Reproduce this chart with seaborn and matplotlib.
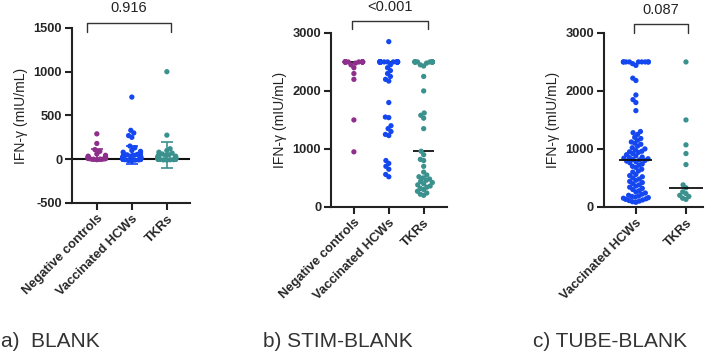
import warnings
import numpy as np
import pandas as pd
import matplotlib
matplotlib.use("Agg")
import matplotlib.pyplot as plt
import seaborn as sns

warnings.filterwarnings("ignore")

# group names and colours
groups_3 = ["Negative controls", "Vaccinated HCWs", "TKRs"]
groups_2 = ["Vaccinated HCWs", "TKRs"]
colors = {"Negative controls": "#8e2f8c", "Vaccinated HCWs": "#1447f0", "TKRs": "#3a918e"}

# a) BLANK (mIU/mL)
neg_blank = [290, 180, 110, 90, 60, 45, 35, 30, 25, 20, 18, 15, 12, 10, 8, 6, 5, 3, 2, 0, -5]
hcw_blank = [710, 330, 300, 270, 250, 150, 130,
             100, 90, 80, 70, 60, 55, 50, 45, 40, 35, 30, 30, 28, 25, 25, 22, 20, 20, 18, 18,
             16, 15, 15, 14, 12, 12, 10, 10, 10, 9, 8, 8, 7, 6, 6, 5, 5, 4, 4, 3,
             3, 2, 2, 1, 1, 0, 0, 0, 0, -2, -3, -5, -8, -10, -15, -20, 5, 10, 15, 20,
             25, 30, 35]
tkr_blank = [1000, 275, 120, 100, 80, 70, 60, 50, 45, 40, 35, 30, 28, 25, 22, 20,
             18, 15, 14, 12, 10, 9, 8, 7, 6, 5, 4, 3, 2, 1, 0, 0, 0,
             -2, -3, -5, -6, -8, -10, 5, 10, 15, 20, 25, 30]

# b) STIM-BLANK
neg_stim = [2500] * 14 + [2480, 2450, 2400, 2300, 2200, 1500, 950]
hcw_stim = [2850] + [2500] * 32 + [2450, 2400, 2350, 2300, 2250, 2200, 2170,
                                    1800, 1550, 1540, 1400, 1350, 1300, 1250, 1230,
                                    800, 750, 700, 650, 560, 520]
tkr_stim = [2500] * 13 + [2480, 2450, 2430, 2250, 2000, 1620, 1580, 1530, 1350, 960,
                          900, 820, 800, 700, 600, 550, 520, 500, 480, 460, 440, 420,
                          400, 380, 360, 340, 320, 300, 270, 240, 220, 200]

# c) TUBE-BLANK
hcw_tube = [2500] * 9 + [2470, 2440, 2220, 2180, 1930, 1850, 1800, 1660,
                         1300, 1280, 1250, 1200, 1180, 1150, 1120, 1100, 1080, 1050, 1020,
                         1000, 980, 960, 950, 940, 920, 900, 880, 860, 850, 840, 830, 820, 810,
                         800, 790, 780, 760, 740, 720, 700, 680, 650, 620, 600, 560, 540, 520,
                         500, 480, 460, 440, 420, 400, 380, 360, 340, 320, 300, 280, 260, 240,
                         220, 200, 190, 180, 170, 160, 150, 140, 130, 120, 110, 100, 90, 80]
tkr_tube = [2500, 1500, 1070, 920, 730, 380, 330, 260, 230, 200, 180, 150, 130]

p_values = ["0.916", "<0.001", "0.087"]
captions = ["a)  BLANK", "b) STIM-BLANK", "c) TUBE-BLANK"]

sns.set_style("ticks")
plt.rcParams["font.family"] = ["Liberation Sans", "DejaVu Sans"]
plt.rcParams["axes.unicode_minus"] = False


def make_df(names, lists):
    rows = []
    for n, vals in zip(names, lists):
        rows += [(n, v) for v in vals]
    return pd.DataFrame(rows, columns=["group", "value"])


def style_axis(ax, ylim, yticks, xlim):
    ax.set_ylim(*ylim)
    ax.set_yticks(yticks)
    ax.set_xlim(*xlim)
    ax.set_xlabel("")
    ax.set_ylabel("IFN-γ (mIU/mL)", fontsize=10, labelpad=4, color="#222222")
    for s in ["top", "right"]:
        ax.spines[s].set_visible(False)
    for s in ["left", "bottom"]:
        ax.spines[s].set_linewidth(1.5)
        ax.spines[s].set_color("#222222")
    ax.tick_params(length=5, width=1.5, labelsize=9.3, color="#222222", pad=2)
    for lab in ax.get_yticklabels():
        lab.set_fontweight("bold")
    for lab in ax.get_xticklabels():
        lab.set_fontweight("bold")
        lab.set_fontsize(9.3)
        lab.set_rotation(45)
        lab.set_ha("right")
        lab.set_rotation_mode("anchor")


def bracket(ax, x0, x1, y0, y1, text, ytext):
    ax.plot([x0, x0, x1, x1], [y0, y1, y1, y0], color="#333333", lw=1, clip_on=False)
    ax.text((x0 + x1) / 2, ytext, text, ha="center", va="center", fontsize=10.5,
            color="#222222", clip_on=False)


fig = plt.figure(figsize=(7.24, 3.58), dpi=100)

# ---- a) BLANK: mean +/- SD
ax1 = fig.add_axes([0.0994, 0.433, 0.163, 0.489])
df1 = make_df(groups_3, [neg_blank, hcw_blank, tkr_blank])
ax1.axhline(0, color="#111111", lw=1.5, zorder=1)
sns.swarmplot(data=df1, x="group", y="value", hue="group", order=groups_3,
              palette=colors, legend=False, size=3.8, ax=ax1, zorder=2)
for i, g in enumerate(groups_3):
    v = df1.loc[df1.group == g, "value"]
    ax1.errorbar(i, v.mean(), yerr=v.std(), color=colors[g], capsize=4, lw=1.2,
                 capthick=1.2, zorder=3)
style_axis(ax1, (-500, 1500), [-500, 0, 500, 1000, 1500], (-0.71, 2.66))
bracket(ax1, -0.29, 2.11, 1451, 1554, p_values[0], 1725)

# ---- b) STIM-BLANK: median
ax2 = fig.add_axes([0.457, 0.422, 0.160, 0.486])
df2 = make_df(groups_3, [neg_stim, hcw_stim, tkr_stim])
for i, g in enumerate(groups_3):
    med = df2.loc[df2.group == g, "value"].median()
    ax2.hlines(med, i - 0.3, i + 0.3, color="#111111", lw=1.3, zorder=1)
sns.swarmplot(data=df2, x="group", y="value", hue="group", order=groups_3,
              palette=colors, legend=False, size=3.8, ax=ax2, zorder=2)
style_axis(ax2, (0, 3000), [0, 1000, 2000, 3000], (-0.66, 2.66))
bracket(ax2, -0.06, 2.11, 3069, 3207, p_values[1], 3450)

# ---- c) TUBE-BLANK: median
ax3 = fig.add_axes([0.834, 0.422, 0.137, 0.486])
df3 = make_df(groups_2, [hcw_tube, tkr_tube])
sns.swarmplot(data=df3, x="group", y="value", hue="group", order=groups_2,
              palette=colors, legend=False, size=3.8, ax=ax3, zorder=2)
for i, g in enumerate(groups_2):
    med = df3.loc[df3.group == g, "value"].median()
    ax3.hlines(med, i - 0.33, i + 0.33, color="#111111", lw=1.3, zorder=3)
style_axis(ax3, (0, 3000), [0, 1000, 2000, 3000], (-0.64, 1.34))
bracket(ax3, -0.04, 1.04, 3000, 3155, p_values[2], 3400)

# panel captions
for x, t in zip([0.002, 0.363, 0.736], captions):
    fig.text(x, 0.045, t, fontsize=15, color="#333333", va="center", ha="left")

# squeeze the swarms a bit, GraphPad packs them tighter than seaborn
fig.canvas.draw()
for ax in [ax1, ax2, ax3]:
    for coll in ax.collections:
        if "draw" in coll.__dict__:
            off = coll.get_offsets().copy()
            c = np.round(off[:, 0].mean())
            off[:, 0] = c + (off[:, 0] - c) * 0.62
            coll.set_offsets(off)
            del coll.draw

fig.savefig("out.png", dpi=100)
